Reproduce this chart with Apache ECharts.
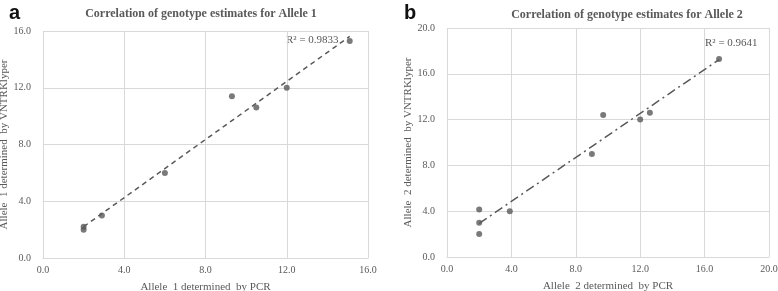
<!DOCTYPE html>
<html><head><meta charset="utf-8">
<script src="https://cdn.jsdelivr.net/npm/echarts@6/dist/echarts.min.js"></script>
<style>html,body{margin:0;padding:0;background:#fff}#c{width:778px;height:291px}</style>
</head><body><div id="c"></div>
<script>
// Panel a data (Allele 1)
const aPcr = [2, 2, 2.9, 6, 9.3, 10.5, 12, 15.1];
const aVntr = [2, 2.2, 3, 6, 11.4, 10.6, 12, 15.3];
const aR2 = 'R² = 0.9833';
// Panel b data (Allele 2)
const bPcr = [2, 2, 2, 3.9, 9, 9.7, 12, 12.6, 16.9];
const bVntr = [2, 3, 4.15, 4, 9, 12.4, 12, 12.6, 17.3];
const bR2 = 'R² = 0.9641';
const aTicksMax = 16, bTicksMax = 20;

function fit(xs, ys) {
  const n = xs.length;
  const mx = xs.reduce((s, v) => s + v, 0) / n, my = ys.reduce((s, v) => s + v, 0) / n;
  let sxy = 0, sxx = 0;
  for (let i = 0; i < n; i++) { sxy += (xs[i] - mx) * (ys[i] - my); sxx += (xs[i] - mx) ** 2; }
  const k = sxy / sxx, b = my - k * mx;
  const x0 = Math.min(...xs), x1 = Math.max(...xs);
  return [[x0, k * x0 + b], [x1, k * x1 + b]];
}
const zip = (xs, ys) => xs.map((x, i) => [x, ys[i]]);

const gray = '#595959', grid = '#d9d9d9', serif = '"Liberation Serif","Times New Roman",serif';
function axis(gi, max, name, isX) {
  return {
    type: 'value', gridIndex: gi, min: 0, max: max, interval: 4,
    name: name, nameLocation: 'middle', nameGap: isX ? 24 : 32,
    nameTextStyle: { color: gray, fontFamily: serif, fontSize: 11 },
    axisLine: { show: isX, lineStyle: { color: grid } },
    axisTick: { show: false },
    axisLabel: { color: gray, fontFamily: serif, fontSize: 10, margin: isX ? 7 : 12, formatter: v => v.toFixed(1) },
    splitLine: { show: true, lineStyle: { color: grid, width: 1 } }
  };
}
const chart = echarts.init(document.getElementById('c'));
chart.setOption({
  animation: false,
  title: [
    { text: 'Correlation of genotype estimates for Allele 1', left: 196, top: 3, textAlign: 'center',
      textStyle: { color: gray, fontFamily: serif, fontSize: 12, fontWeight: 'bold' } },
    { text: 'Correlation of genotype estimates for Allele 2', left: 622, top: 4, textAlign: 'center',
      textStyle: { color: gray, fontFamily: serif, fontSize: 12, fontWeight: 'bold' } },
    { text: 'a', left: 4, top: -2, textStyle: { color: '#111', fontFamily: 'Liberation Sans, Arial', fontSize: 20, fontWeight: 'bold' } },
    { text: 'b', left: 399, top: -2, textStyle: { color: '#111', fontFamily: 'Liberation Sans, Arial', fontSize: 20, fontWeight: 'bold' } }
  ],
  grid: [
    { left: 43, top: 31, width: 325, height: 227, outerBoundsMode: 'none', containLabel: false },
    { left: 447, top: 28, width: 322, height: 229, outerBoundsMode: 'none', containLabel: false }
  ],
  xAxis: [axis(0, aTicksMax, 'Allele  1 determined  by PCR', true), axis(1, bTicksMax, 'Allele  2 determined  by PCR', true)],
  yAxis: [axis(0, aTicksMax, 'Allele  1 determined  by VNTRKlyper', false), axis(1, bTicksMax, 'Allele  2 determined  by VNTRKlyper', false)],
  series: [
    { type: 'line', xAxisIndex: 0, yAxisIndex: 0, data: fit(aPcr, aVntr), symbol: 'none',
      lineStyle: { color: gray, width: 1.5, type: [5, 4] } },
    { type: 'scatter', xAxisIndex: 0, yAxisIndex: 0, data: zip(aPcr, aVntr), symbolSize: 6, itemStyle: { color: gray } },
    { type: 'line', xAxisIndex: 1, yAxisIndex: 1, data: fit(bPcr, bVntr), symbol: 'none',
      lineStyle: { color: gray, width: 1.5, type: [9, 4, 2, 4] } },
    { type: 'scatter', xAxisIndex: 1, yAxisIndex: 1, data: zip(bPcr, bVntr), symbolSize: 6, itemStyle: { color: gray } }
  ],
  graphic: [
    { type: 'text', left: 286, top: 35, style: { text: aR2, fill: gray, font: '11px ' + serif } },
    { type: 'text', left: 705, top: 38, style: { text: bR2, fill: gray, font: '11px ' + serif } }
  ]
});
</script></body></html>
